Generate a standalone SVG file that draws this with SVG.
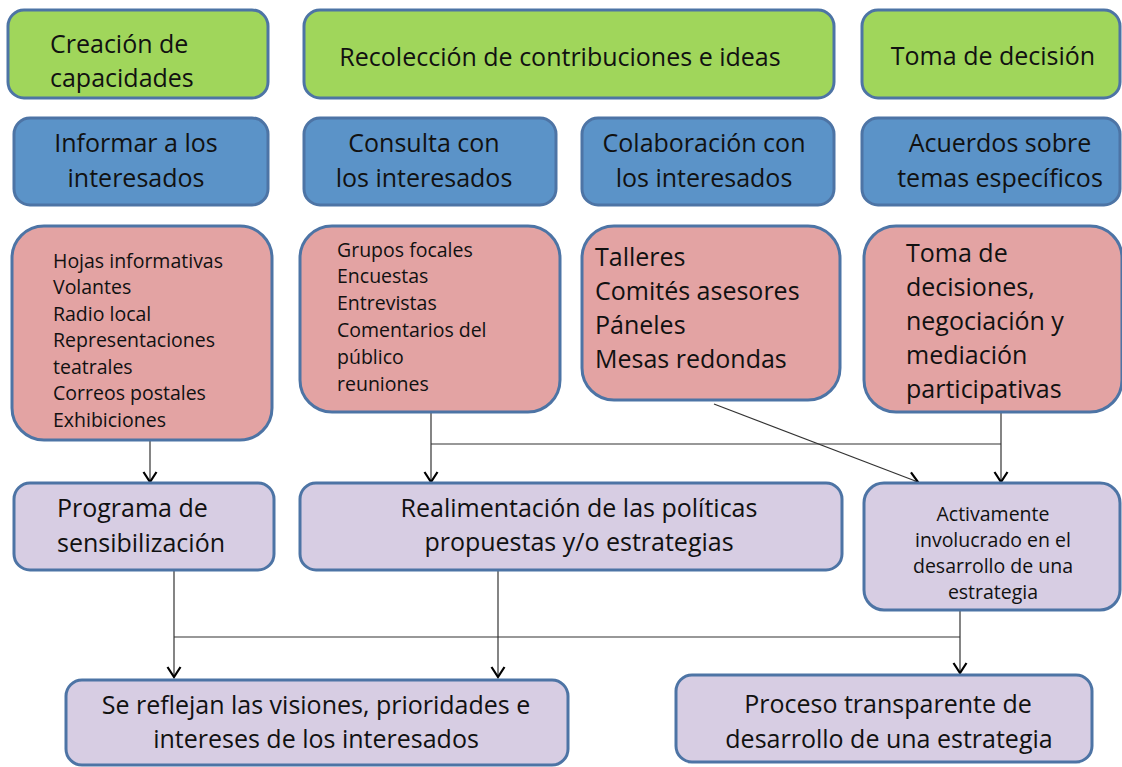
<svg xmlns="http://www.w3.org/2000/svg" width="1122" height="767" viewBox="0 0 1122 767">
<defs>
<style>
.box{stroke:#4d74a5;stroke-width:3}
.g{fill:#a0d65b}
.b{fill:#5b93c8}
.p{fill:#e3a3a3}
.v{fill:#d7cde3}
text{font-family:"Open Sans",Lato,"Liberation Sans",sans-serif;fill:#111}
.t24{font-size:25px}
.t18{font-size:19.5px}
.c{text-anchor:middle}
.ln{stroke:#333;stroke-width:1.2;fill:none}
</style>
<marker id="ar" markerWidth="14" markerHeight="16" refX="12" refY="8" orient="auto" markerUnits="userSpaceOnUse" viewBox="0 0 14 16">
<path d="M2,1.5 L12,8 L2,14.5" fill="none" stroke="#000" stroke-width="2.2"/>
</marker>
</defs>
<rect width="1122" height="767" fill="#fff"/>

<g id="connectors">
<line class="ln" x1="150" y1="440" x2="150" y2="482" marker-end="url(#ar)"/>
<line class="ln" x1="431" y1="412" x2="431" y2="482" marker-end="url(#ar)"/>
<line class="ln" x1="431" y1="444" x2="1001" y2="444"/>
<line class="ln" x1="1001" y1="400" x2="1001" y2="482" marker-end="url(#ar)"/>
<line class="ln" x1="714" y1="404" x2="918" y2="482" marker-end="url(#ar)"/>
<line class="ln" x1="174" y1="570" x2="174" y2="677" marker-end="url(#ar)"/>
<line class="ln" x1="498" y1="570" x2="498" y2="677" marker-end="url(#ar)"/>
<line class="ln" x1="174" y1="637" x2="960" y2="637"/>
<line class="ln" x1="960" y1="610" x2="960" y2="673" marker-end="url(#ar)"/>
</g>

<g id="n-creacion"><rect class="box g" x="8" y="10" width="260" height="88" rx="16"/>
<text class="t24" x="50" y="53">Creación de</text><text class="t24" x="50" y="87">capacidades</text></g>
<g id="n-recoleccion"><rect class="box g" x="304" y="10" width="530" height="88" rx="16"/>
<text class="t24 c" x="560" y="66">Recolección de contribuciones e ideas</text></g>
<g id="n-toma"><rect class="box g" x="862" y="10" width="258" height="88" rx="16"/>
<text class="t24 c" x="993" y="65">Toma de decisión</text></g>

<g id="n-informar"><rect class="box b" x="14" y="118" width="254" height="87" rx="16"/>
<text class="t24 c" x="136" y="152">Informar a los</text><text class="t24 c" x="136" y="187">interesados</text></g>
<g id="n-consulta"><rect class="box b" x="304" y="118" width="252" height="87" rx="16"/>
<text class="t24 c" x="424" y="152">Consulta con</text><text class="t24 c" x="424" y="187">los interesados</text></g>
<g id="n-colaboracion"><rect class="box b" x="582" y="118" width="252" height="87" rx="16"/>
<text class="t24 c" x="704" y="152">Colaboración con</text><text class="t24 c" x="704" y="187">los interesados</text></g>
<g id="n-acuerdos"><rect class="box b" x="862" y="118" width="258" height="87" rx="16"/>
<text class="t24 c" x="1000" y="152">Acuerdos sobre</text><text class="t24 c" x="1000" y="187">temas específicos</text></g>

<g id="n-hojas"><rect class="box p" x="12" y="226" width="260" height="214" rx="32"/>
<text class="t18" x="53"><tspan x="53" y="268">Hojas informativas</tspan><tspan x="53" y="294">Volantes</tspan><tspan x="53" y="321">Radio local</tspan><tspan x="53" y="347">Representaciones</tspan><tspan x="53" y="374">teatrales</tspan><tspan x="53" y="400">Correos postales</tspan><tspan x="53" y="427">Exhibiciones</tspan></text></g>
<g id="n-grupos"><rect class="box p" x="300" y="226" width="260" height="186" rx="32"/>
<text class="t18" x="337"><tspan x="337" y="257">Grupos focales</tspan><tspan x="337" y="283">Encuestas</tspan><tspan x="337" y="310">Entrevistas</tspan><tspan x="337" y="337">Comentarios del</tspan><tspan x="337" y="364">público</tspan><tspan x="337" y="391">reuniones</tspan></text></g>
<g id="n-talleres"><rect class="box p" x="582" y="226" width="258" height="174" rx="32"/>
<text class="t24" x="595"><tspan x="595" y="266">Talleres</tspan><tspan x="595" y="300">Comités asesores</tspan><tspan x="595" y="334">Páneles</tspan><tspan x="595" y="368">Mesas redondas</tspan></text></g>
<g id="n-decisiones"><rect class="box p" x="864" y="226" width="258" height="186" rx="32"/>
<text class="t24" x="906"><tspan x="906" y="262">Toma de</tspan><tspan x="906" y="296">decisiones,</tspan><tspan x="906" y="330">negociación y</tspan><tspan x="906" y="364">mediación</tspan><tspan x="906" y="398">participativas</tspan></text></g>

<g id="n-programa"><rect class="box v" x="14" y="483" width="260" height="87" rx="16"/>
<text class="t24" x="57" y="517">Programa de</text><text class="t24" x="57" y="552">sensibilización</text></g>
<g id="n-realimentacion"><rect class="box v" x="300" y="483" width="542" height="87" rx="16"/>
<text class="t24 c" x="579" y="517">Realimentación de las políticas</text><text class="t24 c" x="579" y="551">propuestas y/o estrategias</text></g>
<g id="n-activamente"><rect class="box v" x="864" y="483" width="256" height="127" rx="20"/>
<text class="t18 c" x="993"><tspan x="993" y="521">Activamente</tspan><tspan x="993" y="547">involucrado en el</tspan><tspan x="993" y="573">desarrollo de una</tspan><tspan x="993" y="599">estrategia</tspan></text></g>

<g id="n-reflejan"><rect class="box v" x="66" y="680" width="502" height="85" rx="16"/>
<text class="t24 c" x="316" y="714">Se reflejan las visiones, prioridades e</text><text class="t24 c" x="316" y="748">intereses de los interesados</text></g>
<g id="n-proceso"><rect class="box v" x="676" y="675" width="416" height="87" rx="16"/>
<text class="t24 c" x="888" y="713">Proceso transparente de</text><text class="t24 c" x="889" y="748">desarrollo de una estrategia</text></g>
</svg>
